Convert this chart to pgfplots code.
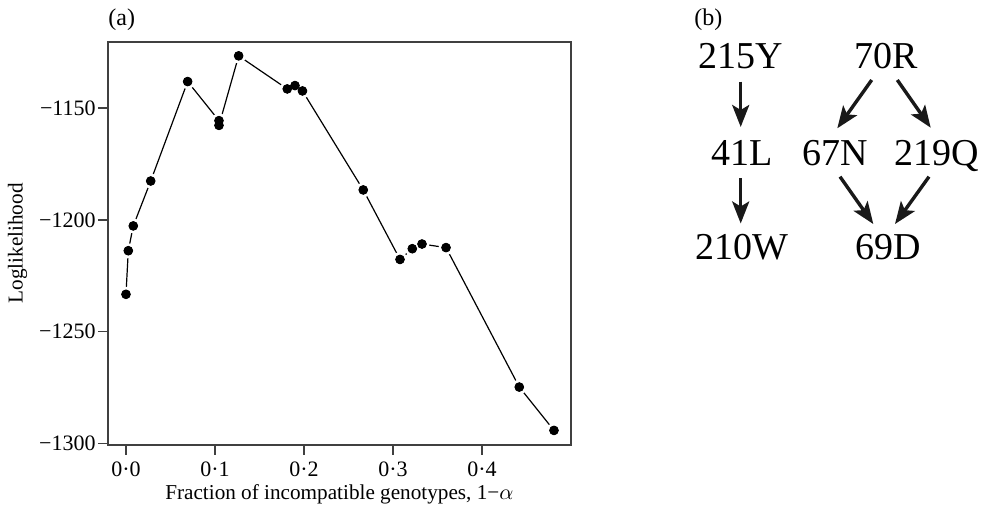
\documentclass[border=0pt]{standalone}
\usepackage{pgfplots}
\pgfplotsset{compat=1.18}
\usepackage{pgfplotstable}
\usepackage{fontspec}
\setmainfont{Liberation Serif}
\usetikzlibrary{arrows.meta}

\pgfplotstableread{
x y
0.0000 -1233.3
0.0026 -1213.8
0.0082 -1202.7
0.0278 -1182.6
0.0693 -1138.1
0.1045 -1155.6
0.1045 -1157.7
0.1266 -1126.6
0.1812 -1141.4
0.1899 -1139.9
0.1983 -1142.3
0.2666 -1186.6
0.3079 -1217.7
0.3217 -1212.9
0.3326 -1210.8
0.3596 -1212.4
0.4419 -1274.8
0.4809 -1294.2
}\loglik

\begin{document}
\begin{tikzpicture}
\begin{axis}[
  scale only axis,
  width=231.35pt, height=201.35pt,
  xmin=-0.0202, xmax=0.4997,
  ymin=-1300.6, ymax=-1120.4,
  axis line style={line width=0.9pt, black!75},
  tick style={line width=0.8pt, black!75},
  tick align=outside, major tick length=5pt,
  xtick pos=left, ytick pos=left,
  xtick={0,0.1,0.2,0.3,0.4},
  xticklabels={0·0,0·1,0·2,0·3,0·4},
  ytick={-1300,-1250,-1200,-1150},
  yticklabels={−1300,−1250,−1200,−1150},
  ticklabel style={font=\fontsize{11}{13}\selectfont},
  yticklabel style={inner xsep=1pt},
  xlabel={Fraction of incompatible genotypes, 1−$\alpha$},
  xlabel style={font=\fontsize{10.6}{12}\selectfont, at={(axis description cs:0.5,-0.137)}, anchor=base},
  ylabel={Loglikelihood},
  ylabel style={font=\fontsize{10.6}{12}\selectfont, at={(axis description cs:-0.1956,0.5)}, anchor=center, rotate=0},
  clip=false,
]
\addplot[black, line width=0.6pt, mark=*, mark size=2.95pt,
  mark options={fill=black, draw=white, line width=1.5pt}] table {\loglik};
\addplot[only marks, mark=*, mark size=2.2pt, mark options={fill=black, draw=none}] table {\loglik};
\end{axis}
\begin{scope}[shift={(-54pt,222.35pt)}, x=0.5pt, y=-0.5pt]
  \node[anchor=base, font=\fontsize{12}{14}\selectfont] at (121.7,26) {(a)};
  \node[anchor=base, font=\fontsize{12}{14}\selectfont] at (708.3,26) {(b)};
  \begin{scope}[every node/.style={anchor=base, font=\fontsize{19}{22}\selectfont, inner sep=0pt}]
    \node at (740.3,68.3) {215Y};
    \node at (885.8,68.3) {70R};
    \node at (742.2,165.7) {41L};
    \node at (835.7,165.7) {67N};
    \node at (936.7,165.7) {219Q};
    \node at (741.7,259.3) {210W};
    \node at (888.3,259.3) {69D};
  \end{scope}
  \begin{scope}[line width=1.7pt, black!90, -{Stealth[length=11pt, width=8.5pt, inset=2.5pt]}]
    \draw (740.7,81.7) -- (740.7,127);
    \draw (740.7,178.3) -- (740.7,223.5);
    \draw (871.7,80) -- (837.3,128.3);
    \draw (897.3,80) -- (930.7,127.7);
    \draw (840,176.7) -- (873.3,224);
    \draw (929,176.7) -- (895,224);
  \end{scope}
\end{scope}
\pgfresetboundingbox
\useasboundingbox (-54pt,222.35pt) rectangle (437.5pt,-32.15pt);
\end{tikzpicture}
\end{document}
